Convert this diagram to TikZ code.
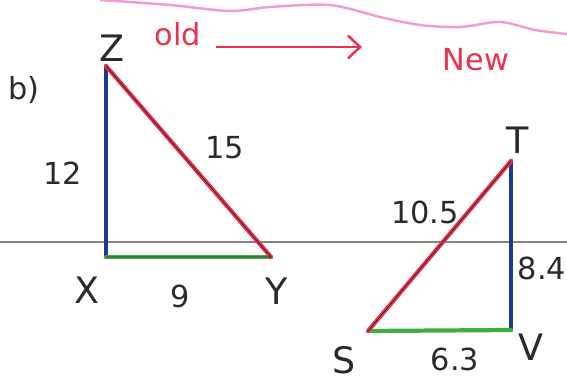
\documentclass[tikz,border=0pt]{standalone}
\usepackage{fontspec}
\setsansfont{DejaVu Sans}
\usetikzlibrary{arrows.meta}
\definecolor{Ink}{HTML}{2A2A2A}
\definecolor{Navy}{HTML}{1E3A8C}
\definecolor{Pen}{HTML}{F0304A}
\definecolor{Leaf}{HTML}{3FAE3F}
\definecolor{Pink}{HTML}{F59AD0}
\definecolor{Rule}{HTML}{8A8478}
\tikzset{
  every picture/.style={font={\sffamily\LARGE}, >={Straight Barb[length=7pt, width=13pt]}},
  side/.style={line width=2.4pt, line cap=round},
  lbl/.style={Ink, inner sep=1pt},
  vtx/.style={Ink, inner sep=1pt, font={\sffamily\huge}},
  note/.style={Pen, inner sep=1pt}}
\begin{document}
\begin{tikzpicture}[x=0.02cm, y=-0.02cm]
    \useasboundingbox (0,0) rectangle (567,381);

    % page rule and pink margin
    \draw[Rule, line width=0.6pt] (0,242) -- (567,242);
    \draw[Pink, line width=1.4pt] plot[smooth] coordinates
      {(100,0) (170,5) (230,11) (270,7) (330,5) (380,17) (420,25) (460,27) (500,22) (535,30) (567,34)};

    % old triangle
    \coordinate (Z) at (106,66);
    \coordinate (X) at (106,257);
    \coordinate (Y) at (271,257);
    \draw[side, Navy] (Z) -- (X);
    \draw[side, Leaf] (X) -- (Y);
    \draw[side, Pen] (Z) -- (Y);
    \draw[Ink, line width=0.4pt] (Z) -- (Y) (X) -- (Y);

    % new triangle
    \coordinate (T) at (511,161);
    \coordinate (V) at (511,330);
    \coordinate (S) at (368,331);
    \draw[side, Navy] (T) -- (V);
    \draw[side, Leaf] (S) -- (V);
    \draw[side, Pen] (S) -- (T);
    \draw[Ink, line width=0.4pt] (S) -- (T);

    \node[lbl] (labB) at (24,90) {b)};
    \node[vtx] (labZ) at (112,48) {Z};
    \node[vtx] (labX) at (87,290) {X};
    \node[vtx] (labY) at (277,291) {Y};
    \node[vtx] (labT) at (518,140) {T};
    \node[vtx] (labV) at (531,347) {V};
    \node[vtx] (labS) at (344,360) {S};
    \node[lbl] (zx) at (63,173) {12};
    \node[lbl] (zy) at (225,148) {15};
    \node[lbl] (xy) at (180,296) {9};
    \node[lbl] (st) at (425,212) {10.5};
    \node[lbl] (tv) at (542,268) {8.4};
    \node[lbl] (sv) at (455,359) {6.3};

    \node[note] (old) at (178,34) {old};
    \node[note] (new) at (476,60) {New};
    \coordinate (a0) at (216,47);
    \coordinate (a1) at (362,47);
    \draw[Pen, line width=1.4pt, ->] (a0) -- (a1);
\end{tikzpicture}
\end{document}
